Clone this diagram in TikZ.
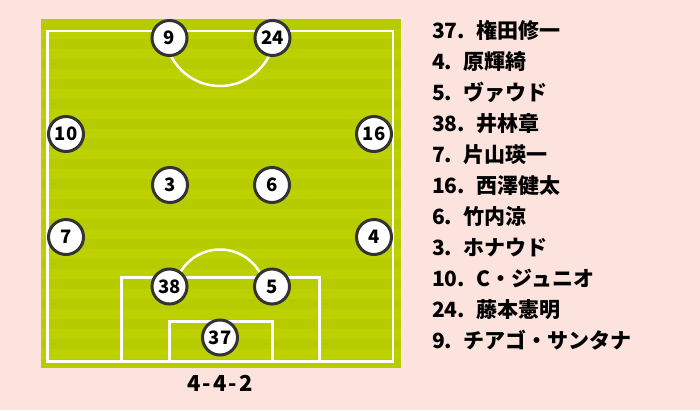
\documentclass[tikz,border=0pt]{standalone}
\usepackage{fontspec}
\setmainfont{Noto Sans CJK JP}
\definecolor{bgpink}{HTML}{FDE3DE}
\definecolor{pitchA}{HTML}{BED100}
\definecolor{pitchB}{HTML}{B6CB00}
\definecolor{ringgray}{HTML}{333333}
\newcommand{\gp}{\hspace{0.55em}}
\tikzset{
  player/.style={circle, draw=ringgray, line width=3pt, fill=white, minimum size=35pt, inner sep=0pt, font=\bfseries\fontsize{18.5}{18.5}\selectfont},
  pline/.style={draw=white, line width=2.5pt},
  roster/.style={anchor=base west, inner sep=0pt, font=\bfseries\fontsize{21}{21}\selectfont},
}
\begin{document}
\begin{tikzpicture}[x=1pt,y=-1pt]
\fill[bgpink] (0,0) rectangle (700,410);
\useasboundingbox (0,0) rectangle (700,410);
% pitch with stripes
\fill[pitchA] (41,19) rectangle (401,368);
\foreach \k in {0,2,...,34} {
  \fill[pitchB] (41,{19+10*\k}) rectangle (401,{min(29+10*\k,368)});
}
% lines
\draw[pline] (47.5,361.5) -- (47.5,31) -- (393,31) -- (393,361.5) -- cycle;
\begin{scope}
\clip (47.5,31) rectangle (393,361.5);
\draw[pline] (220,31) circle (55);
\end{scope}
\draw[pline] (121.5,361.5) -- (121.5,277.5) -- (319.5,277.5) -- (319.5,361.5);
\draw[pline] (169.5,361.5) -- (169.5,321.5) -- (272.5,321.5) -- (272.5,361.5);
\begin{scope}
\clip (100,200) rectangle (340,277.5);
\draw[pline] (220,295.5) circle (46);
\end{scope}
% players
\node[player] (p9)  at (169.5,38) {9};
\node[player] (p24) at (272.5,38) {24};
\node[player] (p10) at (66,134) {10};
\node[player] (p16) at (374,134) {16};
\node[player] (p3)  at (170,185) {3};
\node[player] (p6)  at (272,185) {6};
\node[player] (p7)  at (66,237) {7};
\node[player] (p4)  at (374,237) {4};
\node[player] (p38) at (169.5,286.5) {38};
\node[player] (p5)  at (272,286.5) {5};
\node[player] (p37) at (220,337.5) {37};
% formation
\node[font=\bfseries\fontsize{22}{22}\selectfont, anchor=base] (form) at (220,391) {4\hspace{2pt}-\hspace{2pt}4\hspace{2pt}-\hspace{2pt}2};
% roster
\node[roster] (r1)  at (432,38)  {37.\gp 権田修一};
\node[roster] (r2)  at (432,69)  {4.\gp 原輝綺};
\node[roster] (r3)  at (432,100) {5.\gp ヴァウド};
\node[roster] (r4)  at (432,131) {38.\gp 井林章};
\node[roster] (r5)  at (432,162) {7.\gp 片山瑛一};
\node[roster] (r6)  at (432,193) {16.\gp 西澤健太};
\node[roster] (r7)  at (432,224) {6.\gp 竹内涼};
\node[roster] (r8)  at (432,255) {3.\gp ホナウド};
\node[roster] (r9)  at (432,286) {10.\gp C・ジュニオ};
\node[roster] (r10) at (432,317) {24.\gp 藤本憲明};
\node[roster] (r11) at (432,348) {9.\gp チアゴ・サンタナ};
\end{tikzpicture}
\end{document}
